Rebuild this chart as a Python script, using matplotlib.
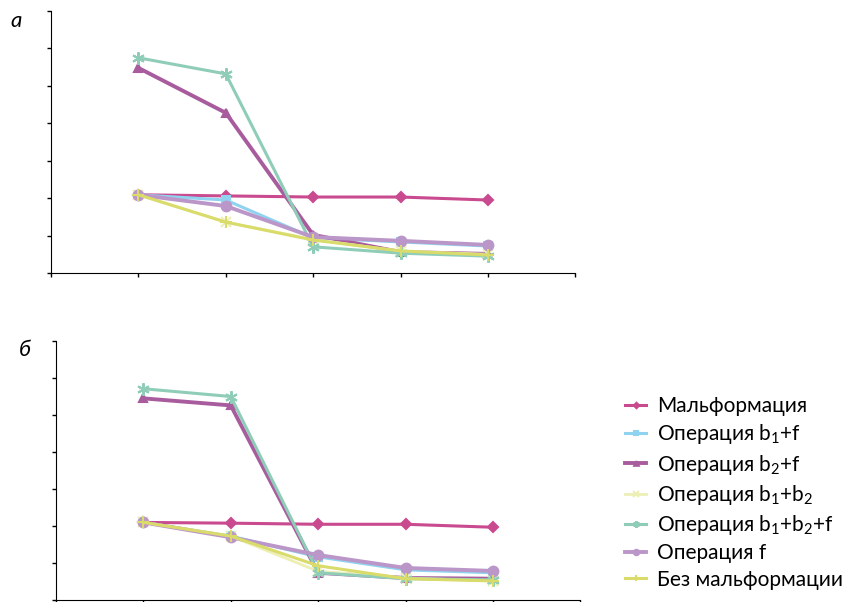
import numpy as np
import matplotlib
matplotlib.use("Agg")
import matplotlib.pyplot as plt

plt.rcParams['font.family'] = ['Lato', 'DejaVu Sans']
plt.rcParams['mathtext.default'] = 'regular'

# series names
labels = ["Мальформация", "Операция b$_1$+f", "Операция b$_2$+f",
          "Операция b$_1$+b$_2$", "Операция b$_1$+b$_2$+f",
          "Операция f", "Без мальформации"]
x = [1, 2, 3, 4, 5]

# panel а
a_mal = [2.09, 2.06, 2.03, 2.03, 1.95]
a_b1f = [2.09, 1.95, 0.94, 0.83, 0.72]
a_b2f = [5.48, 4.28, 1.02, 0.56, 0.51]
a_b1b2 = [2.09, 1.36, 0.90, 0.58, 0.50]
a_b1b2f = [5.75, 5.32, 0.70, 0.53, 0.45]
a_f = [2.09, 1.79, 0.96, 0.86, 0.75]
a_none = [2.09, 1.36, 0.88, 0.59, 0.48]

# panel б
b_mal = [2.10, 2.08, 2.05, 2.05, 1.97]
b_b1f = [2.10, 1.73, 1.17, 0.82, 0.74]
b_b2f = [5.45, 5.26, 0.74, 0.60, 0.58]
b_b1b2 = [2.10, 1.73, 0.78, 0.60, 0.52]
b_b1b2f = [5.71, 5.50, 0.74, 0.58, 0.55]
b_f = [2.10, 1.70, 1.22, 0.87, 0.79]
b_none = [2.10, 1.73, 0.93, 0.58, 0.52]

colors = ['#C94A8E', '#8FD3F0', '#A85C9E', '#EDEFB5', '#8FCDB9', '#BB96C8', '#D9DC6A']
markers = ['D', 's', '^', 'x', (6, 2, 0), 'o', '+']
msizes = [5, 6, 6, 7, 9, 7, 9]
lwidths = [2.2, 2.2, 2.8, 2.0, 2.2, 2.8, 2.2]

fig = plt.figure(figsize=(8.47, 6.02), dpi=100)
ax_a = fig.add_axes([0.0602, 0.5465, 0.619, 0.4352])
ax_b = fig.add_axes([0.0661, 0.003, 0.619, 0.4306])

panels = [
    (ax_a, [a_mal, a_b1f, a_b2f, a_b1b2, a_b1b2f, a_f, a_none]),
    (ax_b, [b_mal, b_b1f, b_b2f, b_b1b2, b_b1b2f, b_f, b_none]),
]

for ax, series in panels:
    for i, s in enumerate(series):
        ax.plot(x, s, color=colors[i], marker=markers[i], ms=msizes[i],
                lw=lwidths[i], mew=1.5, label=labels[i])
    ax.set_xlim(0, 6)
    ax.set_ylim(0, 7)
    ax.set_xticks(range(7))
    ax.set_yticks(range(8))
    ax.set_xticklabels([])
    ax.set_yticklabels([])
    ax.spines['top'].set_visible(False)
    ax.spines['right'].set_visible(False)
    ax.tick_params(direction='out', length=3, width=1)

fig.text(0.012, 0.955, "а", fontsize=16, style='italic')
fig.text(0.022, 0.408, "б", fontsize=16, style='italic')

handles, lbls = ax_b.get_legend_handles_labels()
fig.legend(handles, lbls, loc='upper left', bbox_to_anchor=(0.738, 0.342),
           frameon=False, fontsize=15, handlelength=1.0, labelspacing=0.3,
           markerscale=0.55, handletextpad=0.55, borderpad=0, borderaxespad=0)

fig.savefig("out.png", dpi=100)
